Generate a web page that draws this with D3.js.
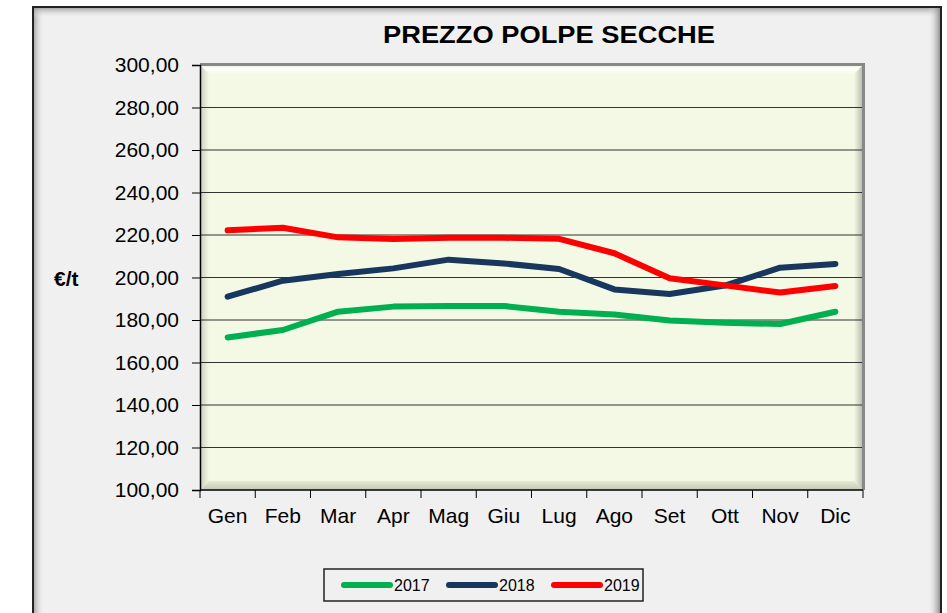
<!DOCTYPE html>
<html>
<head>
<meta charset="utf-8">
<script src="https://cdn.jsdelivr.net/npm/d3@7"></script>
<style>
  body { margin: 0; background: #ffffff; }
  text { font-family: "Liberation Sans", Arial, sans-serif; }
</style>
</head>
<body>
<script>
// data
var months = ['Gen', 'Feb', 'Mar', 'Apr', 'Mag', 'Giu', 'Lug', 'Ago', 'Set', 'Ott', 'Nov', 'Dic'];
var years = ['2017', '2018', '2019'];
var v2017 = [171.8, 175.3, 183.9, 186.3, 186.6, 186.6, 183.9, 182.6, 179.8, 178.7, 178.1, 183.9];
var v2018 = [191.0, 198.5, 201.6, 204.3, 208.4, 206.6, 204.0, 194.4, 192.2, 196.2, 204.6, 206.4];
var v2019 = [222.2, 223.4, 218.9, 218.1, 218.7, 218.7, 218.2, 211.4, 199.6, 196.3, 192.9, 196.0];
var yTicks = [100, 120, 140, 160, 180, 200, 220, 240, 260, 280, 300];
var colors = ['#00b050', '#17375e', '#ff0000'];

var series = [v2017, v2018, v2019];

var width = 947,
    height = 613;

var svg = d3.select('body')
    .append('svg')
    .attr('width', width)
    .attr('height', height);

var defs = svg.append('defs');

// outer frame
svg.append('rect')
    .attr('x', 33).attr('y', 7)
    .attr('width', 908).attr('height', 620)
    .attr('fill', '#f0f0f0')
    .attr('stroke', '#222')
    .attr('stroke-width', 2);

var shade = defs.append('linearGradient').attr('id', 'shadeL');
shade.append('stop').attr('offset', '0%').attr('stop-color', '#999').attr('stop-opacity', 0.8);
shade.append('stop').attr('offset', '100%').attr('stop-color', '#f0f0f0').attr('stop-opacity', 0);
var shadeT = defs.append('linearGradient').attr('id', 'shadeT').attr('x1', 0).attr('y1', 0).attr('x2', 0).attr('y2', 1);
shadeT.append('stop').attr('offset', '0%').attr('stop-color', '#999').attr('stop-opacity', 0.8);
shadeT.append('stop').attr('offset', '100%').attr('stop-color', '#f0f0f0').attr('stop-opacity', 0);
var shadeR = defs.append('linearGradient').attr('id', 'shadeR').attr('x1', 1).attr('x2', 0);
shadeR.append('stop').attr('offset', '0%').attr('stop-color', '#888').attr('stop-opacity', 0.9);
shadeR.append('stop').attr('offset', '100%').attr('stop-color', '#f0f0f0').attr('stop-opacity', 0);

svg.append('rect').attr('x', 34).attr('y', 8).attr('width', 10).attr('height', 610).attr('fill', 'url(#shadeL)');
svg.append('rect').attr('x', 34).attr('y', 8).attr('width', 906).attr('height', 10).attr('fill', 'url(#shadeT)');
svg.append('rect').attr('x', 928).attr('y', 8).attr('width', 12).attr('height', 610).attr('fill', 'url(#shadeR)');

// title
svg.append('text')
    .attr('x', 549).attr('y', 43)
    .attr('text-anchor', 'middle')
    .style('font-size', '24px')
    .style('font-weight', 'bold')
    .attr('textLength', 332)
    .attr('lengthAdjust', 'spacingAndGlyphs')
    .text('PREZZO  POLPE SECCHE');

var plotL = 200, plotR = 863, plotT = 65, plotB = 490;

var x = d3.scaleBand().domain(months).range([plotL, plotR]);
var y = d3.scaleLinear().domain([100, 300]).range([plotB, plotT]);

// plot area with bevel
svg.append('rect')
    .attr('x', plotL).attr('y', plotT)
    .attr('width', plotR - plotL).attr('height', plotB - plotT)
    .attr('fill', '#f4f9e6');

var b = 9;
var bevel = svg.append('g');
var gT = defs.append('linearGradient').attr('id', 'bevT').attr('x1', 0).attr('y1', 0).attr('x2', 0).attr('y2', 1);
gT.append('stop').attr('offset', '0%').attr('stop-color', '#eef3dc');
gT.append('stop').attr('offset', '50%').attr('stop-color', '#ffffff');
gT.append('stop').attr('offset', '100%').attr('stop-color', '#f4f9e6');
var gB = defs.append('linearGradient').attr('id', 'bevB').attr('x1', 0).attr('y1', 0).attr('x2', 0).attr('y2', 1);
gB.append('stop').attr('offset', '0%').attr('stop-color', '#e6ebd6');
gB.append('stop').attr('offset', '100%').attr('stop-color', '#c4c8b6');
var gR = defs.append('linearGradient').attr('id', 'bevR');
gR.append('stop').attr('offset', '0%').attr('stop-color', '#f4f9e6');
gR.append('stop').attr('offset', '100%').attr('stop-color', '#b5b8a6');
var gL = defs.append('linearGradient').attr('id', 'bevL');
gL.append('stop').attr('offset', '0%').attr('stop-color', '#c9cdb9');
gL.append('stop').attr('offset', '100%').attr('stop-color', '#f4f9e6');

bevel.append('polygon').attr('fill', 'url(#bevT)')
    .attr('points', [[plotL, plotT], [plotR, plotT], [plotR - b, plotT + b], [plotL + b, plotT + b]].join(' '));
bevel.append('polygon').attr('fill', 'url(#bevB)')
    .attr('points', [[plotL, plotB], [plotR, plotB], [plotR - b, plotB - b], [plotL + b, plotB - b]].join(' '));
bevel.append('polygon').attr('fill', 'url(#bevR)')
    .attr('points', [[plotR, plotT], [plotR, plotB], [plotR - b, plotB - b], [plotR - b, plotT + b]].join(' '));
bevel.append('polygon').attr('fill', 'url(#bevL)')
    .attr('points', [[plotL, plotT], [plotL, plotB], [plotL + b, plotB - b], [plotL + b, plotT + b]].join(' '));

// gridlines
svg.append('g')
    .selectAll('line')
    .data(yTicks.filter(function(d) { return d > 100 && d < 300; }))
    .enter().append('line')
    .attr('x1', plotL).attr('x2', plotR)
    .attr('y1', function(d) { return y(d); })
    .attr('y2', function(d) { return y(d); })
    .attr('stroke', '#333')
    .attr('stroke-width', 1.2);

// plot border top/right
svg.append('path')
    .attr('d', 'M' + plotL + ',' + (plotT - 0.5) + 'H' + (plotR + 0.5) + 'V' + plotB)
    .attr('fill', 'none')
    .attr('stroke', '#888')
    .attr('stroke-width', 3);

// axes
var fmt = function(d) { return d3.format('.2f')(d).replace('.', ','); };

var yAxis = svg.append('g')
    .attr('transform', 'translate(' + plotL + ',0)')
    .call(d3.axisLeft(y).tickValues(yTicks).tickFormat(fmt).tickSize(8).tickPadding(13));
yAxis.selectAll('text').style('font-size', '21px').attr('fill', '#000')
    .attr('font-family', '"Liberation Sans", Arial, sans-serif');

var xAxis = svg.append('g')
    .attr('transform', 'translate(0,' + plotB + ')')
    .call(d3.axisBottom(x).tickSize(0).tickPadding(18));
xAxis.select('.domain').remove();
xAxis.selectAll('text').style('font-size', '21px').attr('fill', '#000')
    .attr('font-family', '"Liberation Sans", Arial, sans-serif');

var bounds = months.map(function(m) { return x(m); }).concat([plotR]);
svg.append('g')
    .selectAll('line')
    .data(bounds)
    .enter().append('line')
    .attr('x1', function(d) { return d; }).attr('x2', function(d) { return d; })
    .attr('y1', plotB).attr('y2', plotB + 8)
    .attr('stroke', '#000');
svg.append('line')
    .attr('x1', plotL).attr('x2', plotR)
    .attr('y1', plotB).attr('y2', plotB)
    .attr('stroke', '#000').attr('stroke-width', 1.5);

svg.selectAll('.domain').attr('stroke-width', 1.5);

// y label
svg.append('text')
    .attr('x', 54).attr('y', 286)
    .style('font-size', '21px')
    .style('font-weight', 'bold')
    .text('€/t');

// lines
var line = d3.line()
    .x(function(d, i) { return x(months[i]) + x.bandwidth() / 2; })
    .y(function(d) { return y(d); });

svg.append('g')
    .selectAll('path')
    .data(series)
    .enter().append('path')
    .attr('d', line)
    .attr('fill', 'none')
    .attr('stroke', function(d, i) { return colors[i]; })
    .attr('stroke-width', 6)
    .attr('stroke-linejoin', 'round')
    .attr('stroke-linecap', 'round');

// legend
var legend = svg.append('g');
legend.append('rect')
    .attr('x', 324).attr('y', 569)
    .attr('width', 319).attr('height', 32)
    .attr('fill', 'none')
    .attr('stroke', '#222')
    .attr('stroke-width', 1.5);

var item = legend.selectAll('g.item')
    .data(years)
    .enter().append('g')
    .attr('class', 'item')
    .attr('transform', function(d, i) { return 'translate(' + (344 + i * 105) + ',585)'; });
item.append('line')
    .attr('x1', 0).attr('x2', 46)
    .attr('stroke', function(d, i) { return colors[i]; })
    .attr('stroke-width', 6)
    .attr('stroke-linecap', 'round');
item.append('text')
    .attr('x', 50).attr('y', 6)
    .style('font-size', '16px')
    .text(function(d) { return d; });
</script>
</body>
</html>
